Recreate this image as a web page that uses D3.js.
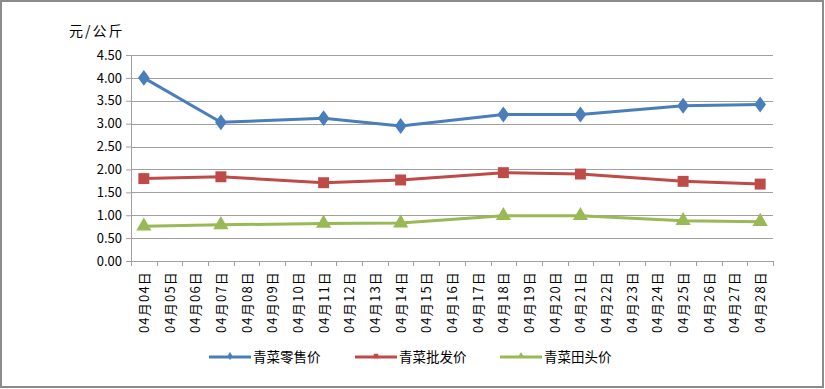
<!DOCTYPE html>
<html>
<head>
<meta charset="utf-8">
<script src="https://cdn.jsdelivr.net/npm/d3@7"></script>
<style>
  body { margin: 0; background: #fff; }
  svg text { font-family: "Noto Sans CJK SC", "DejaVu Sans", sans-serif; fill: #000; }
</style>
</head>
<body>
<div id="chart"></div>
<script>
// categories: every day 04/04 .. 04/28
var days = d3.range(4, 29).map(function(d) { return "04月" + (d < 10 ? "0" + d : d) + "日"; });
// days that have a price reading
var sampleDays = ["04月04日", "04月07日", "04月11日", "04月14日", "04月18日", "04月21日", "04月25日", "04月28日"];
var retail    = [4.00, 3.03, 3.12, 2.95, 3.20, 3.20, 3.39, 3.42];
var wholesale = [1.80, 1.84, 1.71, 1.77, 1.93, 1.90, 1.74, 1.68];
var farmgate  = [0.76, 0.79, 0.82, 0.83, 0.99, 0.99, 0.88, 0.86];
var yTicks = [0, 0.5, 1, 1.5, 2, 2.5, 3, 3.5, 4, 4.5];
var seriesNames = ["青菜零售价", "青菜批发价", "青菜田头价"];

var W = 825, H = 389;
var margins = {top: 55, right: 52, bottom: 128, left: 131};
var width = W - margins.left - margins.right;
var height = H - margins.top - margins.bottom;

var svg = d3.select("#chart").append("svg").attr("width", W).attr("height", H);

// outer frame
svg.append("rect").attr("x", 1).attr("y", 1).attr("width", W - 3).attr("height", H - 3)
  .attr("fill", "#fff").attr("stroke", "#8c8c8c").attr("stroke-width", 2);

var chart = svg.append("g").attr("transform", "translate(" + margins.left + "," + margins.top + ")");

var xScale = d3.scaleBand().domain(days).range([0, width]);
var yScale = d3.scaleLinear().domain([0, 4.5]).range([height, 0]);

// gridlines
chart.append("g").selectAll("line").data(yTicks.slice(1)).enter().append("line")
  .attr("x1", 0).attr("x2", width)
  .attr("y1", function(d) { return Math.round(yScale(d)) + 0.5; })
  .attr("y2", function(d) { return Math.round(yScale(d)) + 0.5; })
  .attr("stroke", "#a0a0a0").attr("stroke-width", 1);

// y axis
var yAxis = d3.axisLeft(yScale).tickValues(yTicks).tickFormat(d3.format(".2f")).tickSize(5).tickPadding(4);
var yAxisG = chart.append("g").attr("class", "y axis").call(yAxis);
yAxisG.select(".domain").remove();
yAxisG.append("line").attr("x1", 0.5).attr("x2", 0.5).attr("y1", 0).attr("y2", height + 5)
  .attr("stroke", "#a0a0a0");
yAxisG.selectAll(".tick line").attr("stroke", "#a0a0a0");
yAxisG.selectAll("text").attr("font-size", 13).attr("font-family", "Liberation Sans, Arial, sans-serif");

// x axis: ticks at band boundaries
var xAxisG = chart.append("g").attr("transform", "translate(0," + height + ")");
xAxisG.append("line").attr("x1", 0).attr("x2", width).attr("y1", 0.5).attr("y2", 0.5).attr("stroke", "#a0a0a0");
xAxisG.selectAll(".xt").data(days).enter().append("line")
  .attr("x1", function(d) { return Math.round(xScale(d) + xScale.bandwidth()) + 0.5; })
  .attr("x2", function(d) { return Math.round(xScale(d) + xScale.bandwidth()) + 0.5; })
  .attr("y1", 0).attr("y2", 5).attr("stroke", "#a0a0a0");
xAxisG.selectAll(".xl").data(days).enter().append("text")
  .attr("transform", function(d) {
    return "translate(" + (xScale(d) + xScale.bandwidth() / 2 + 5) + ",10) rotate(-90)";
  })
  .attr("text-anchor", "end")
  .attr("font-size", 13)
  .attr("letter-spacing", 1.2)
  .text(function(d) { return d; });

// unit label
svg.append("text").attr("x", 69).attr("y", 36).attr("font-size", 14)
  .attr("letter-spacing", 2).text("元/公斤");

var colors = ["#4a7ebb", "#be4b48", "#98b954"];
var allSeries = [retail, wholesale, farmgate];

var line = d3.line()
  .x(function(d, i) { return xScale(sampleDays[i]) + xScale.bandwidth() / 2; })
  .y(function(d) { return yScale(d); });

var symbols = [d3.symbolDiamond, d3.symbolSquare, d3.symbolTriangle];
var symbolSizes = [90, 120, 100];

allSeries.forEach(function(values, s) {
  chart.append("path").datum(values)
    .attr("d", line)
    .attr("fill", "none")
    .attr("stroke", colors[s])
    .attr("stroke-width", 3)
    .attr("stroke-linejoin", "round");
  chart.selectAll(".pt" + s).data(values).enter().append("path")
    .attr("d", d3.symbol().type(symbols[s]).size(symbolSizes[s]))
    .attr("transform", function(d, i) {
      var sy = s === 0 ? "scale(1.15,0.9)" : "";
      return "translate(" + (xScale(sampleDays[i]) + xScale.bandwidth() / 2) + "," + yScale(d) + ")" + sy;
    })
    .attr("fill", colors[s]);
});

// legend
var legendX = [209, 355, 500];
var legend = svg.append("g");
seriesNames.forEach(function(name, s) {
  var g = legend.append("g").attr("transform", "translate(" + legendX[s] + ",357)");
  g.append("line").attr("x1", 0).attr("x2", 42).attr("y1", 0).attr("y2", 0)
    .attr("stroke", colors[s]).attr("stroke-width", 3);
  g.append("path").attr("d", d3.symbol().type(symbols[s]).size(20))
    .attr("transform", "translate(21,-1)").attr("fill", colors[s]);
  g.append("text").attr("x", 44).attr("y", 5).attr("font-size", 13.5).text(name);
});
</script>
</body>
</html>
